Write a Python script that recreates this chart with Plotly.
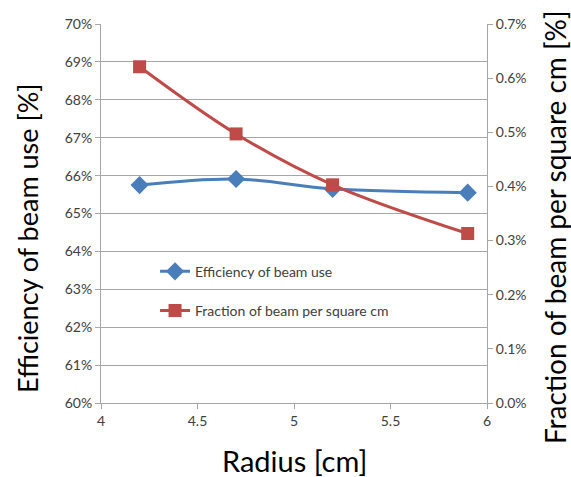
import plotly.graph_objects as go

radius = [4.2, 4.7, 5.2, 5.9]
efficiency = [0.6575, 0.6591, 0.6565, 0.6555]
fraction = [0.00621, 0.00497, 0.00403, 0.00313]

x_title = "Radius [cm]"
y_title = "Efficiency of beam use [%]"
y2_title = "Fraction of beam per square cm [%]"

blue = "#4A7EBB"
red = "#BE4B48"
grid = "#A6A6A6"
font = "Lato, 'Open Sans', sans-serif"

fig = go.Figure()
fig.add_trace(go.Scatter(
    x=radius, y=efficiency, name="Efficiency of beam use", mode="lines+markers",
    line=dict(color=blue, width=3, shape="spline", smoothing=1.0),
    marker=dict(symbol="diamond", size=14, color=blue),
    legendgroup="a", yaxis="y"))
fig.add_trace(go.Scatter(
    x=radius, y=fraction, name="Fraction of beam per square cm", mode="lines+markers",
    line=dict(color=red, width=3, shape="spline", smoothing=1.0),
    marker=dict(symbol="square", size=13, color=red),
    legendgroup="b", yaxis="y2"))

title_font = dict(family=font, size=28, color="black")

fig.update_layout(
    width=571, height=477,
    margin=dict(l=101, r=84, t=24, b=74),
    paper_bgcolor="white", plot_bgcolor="white",
    font=dict(family=font, color="#404040", size=14),
    showlegend=True,
    legend=dict(x=0.14, y=0.295, xanchor="left", yanchor="middle",
                bgcolor="rgba(0,0,0,0)", font=dict(size=14, color="#404040"),
                tracegroupgap=18, itemwidth=30),
    xaxis=dict(range=[4, 6], tickvals=[4, 4.5, 5, 5.5, 6], ticktext=["4", "4.5", "5", "5.5", "6"],
               showgrid=False, showline=True, linecolor=grid, linewidth=1,
               ticks="outside", ticklen=5, tickcolor=grid, zeroline=False),
    yaxis=dict(range=[0.60, 0.70], tickvals=[0.60 + i * 0.01 for i in range(11)],
               tickformat=".0%", showgrid=True, gridcolor=grid, gridwidth=1,
               showline=True, linecolor=grid, ticks="outside", ticklen=5, tickcolor=grid,
               zeroline=False),
    yaxis2=dict(range=[0, 0.007], tickvals=[i * 0.001 for i in range(8)],
                tickformat=".1%", overlaying="y", side="right", showgrid=False,
                showline=True, linecolor=grid, ticks="outside", ticklen=5, tickcolor=grid,
                zeroline=False),
    annotations=[
        dict(text=x_title, xref="paper", yref="paper", x=0.5, y=-0.153,
             xanchor="center", yanchor="middle", showarrow=False, font=dict(title_font, size=29)),
        dict(text=y_title, xref="paper", yref="paper", x=-0.192, y=0.435,
             xanchor="center", yanchor="middle", showarrow=False, textangle=-90,
             font=dict(title_font, size=27)),
        dict(text=y2_title, xref="paper", yref="paper", x=1.176, y=0.464,
             xanchor="center", yanchor="middle", showarrow=False, textangle=-90,
             font=title_font),
    ],
)

fig.write_html("out.html")
